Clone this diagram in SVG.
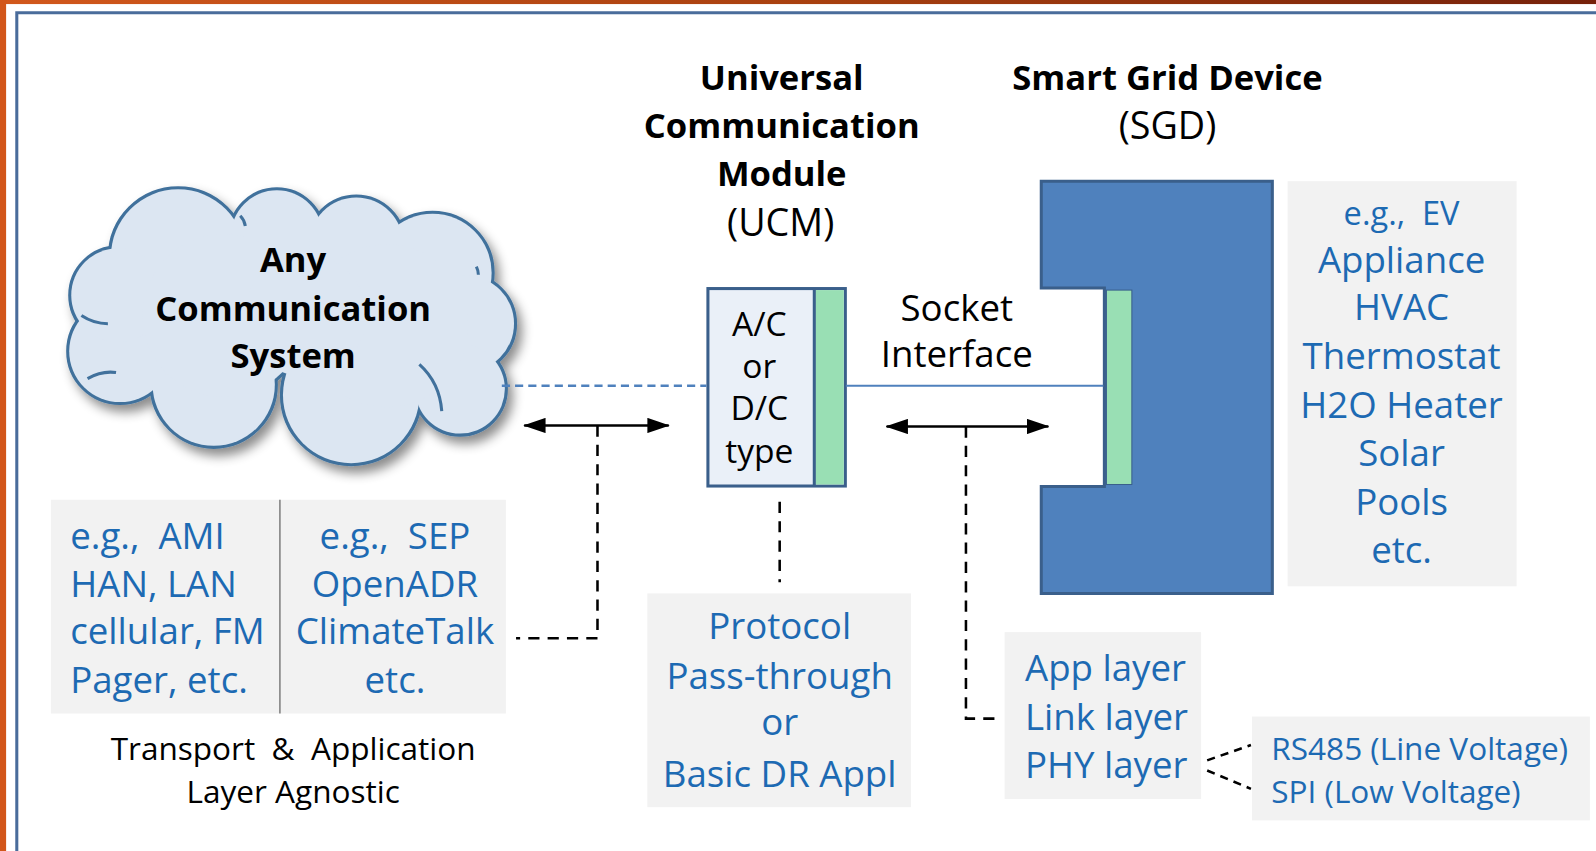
<svg xmlns="http://www.w3.org/2000/svg" width="1596" height="851" viewBox="0 0 1596 851">
<defs>
<linearGradient id="topband" x1="0" y1="0" x2="1" y2="0">
<stop offset="0" stop-color="#d2581c"/>
<stop offset="0.5" stop-color="#a8400f"/>
<stop offset="1" stop-color="#74200a"/>
</linearGradient>
<filter id="shadow" x="-20%" y="-20%" width="140%" height="140%">
<feDropShadow dx="5" dy="7" stdDeviation="5" flood-color="#000" flood-opacity="0.45"/>
</filter>
<marker id="ah" viewBox="0 0 22 15" markerWidth="22" markerHeight="15" refX="21" refY="7.5" orient="auto-start-reverse" markerUnits="userSpaceOnUse">
<path d="M0,0 L22,7.5 L0,15 Z" fill="#000"/>
</marker>
<g id="cloudCircles">
<circle cx="175" cy="252" r="66"/>
<circle cx="272" cy="232" r="45"/>
<circle cx="350" cy="240" r="46"/>
<circle cx="425" cy="268" r="58"/>
<circle cx="458" cy="318" r="47"/>
<circle cx="452" cy="382" r="44"/>
<circle cx="345" cy="388" r="67"/>
<circle cx="210" cy="378" r="60"/>
<circle cx="118" cy="345" r="50"/>
<circle cx="116" cy="290" r="46"/>
<circle cx="220" cy="310" r="80"/>
<circle cx="380" cy="320" r="80"/>
<circle cx="300" cy="310" r="60"/>
</g>
</defs>
<style>
.bold{font-family:"Open Sans","Liberation Sans",sans-serif;font-weight:bold;font-size:34px;fill:#000;text-anchor:middle}
.reg{font-family:"Open Sans","Liberation Sans",sans-serif;font-size:31px;fill:#000;text-anchor:middle}
.blue{font-family:"Open Sans","Liberation Sans",sans-serif;font-size:36px;fill:#1d6ab3}
.mid{text-anchor:middle}
.gray{fill:#f2f2f2}
.dash{fill:none;stroke:#000;stroke-width:2.5;stroke-dasharray:11 8}
.arrow{fill:none;stroke:#000;stroke-width:2.5;marker-start:url(#ah);marker-end:url(#ah)}
.edge{stroke:#3a5f8b;stroke-width:3}
</style>
<rect width="1596" height="851" fill="#fff"/>
<g transform="scale(1.01786)">
<g id="frame">
<rect x="0" y="0" width="1596" height="4" fill="url(#topband)"/>
<rect x="0" y="0" width="6" height="851" fill="#d2561a"/>
<path d="M16.5,851 V12.5 H1596" fill="none" stroke="#4a6c9b" stroke-width="3"/>
</g>
<g id="cloud">
<use href="#cloudCircles" fill="#dce6f2" stroke="#41719c" stroke-width="6" filter="url(#shadow)"/>
<use href="#cloudCircles" fill="#dce6f2" stroke="none"/>
<g fill="none" stroke="#41719c" stroke-width="3">
<path d="M412,358 Q432,376 434,404"/>
<path d="M80,310 Q92,318 106,318"/>
<path d="M86,372 Q100,364 114,366"/>
<path d="M236,212 Q240,216 241,222"/>
<path d="M468,262 Q470,266 470,270"/>
</g>
<text class="bold" x="288" y="267">Any</text>
<text class="bold" x="288" y="315">Communication</text>
<text class="bold" x="288" y="362">System</text>
</g>
<g id="ucm-title">
<text class="bold" x="768" y="88">Universal</text>
<text class="bold" x="768" y="136">Communication</text>
<text class="bold" x="768" y="183">Module</text>
<text class="reg" x="767" y="232" style="font-size:37px">(UCM)</text>
</g>
<g id="sgd-title">
<text class="bold" x="1147" y="88">Smart Grid Device</text>
<text class="reg" x="1147" y="137" style="font-size:37px">(SGD)</text>
</g>
<g id="ucm">
<rect x="695.5" y="283.5" width="135" height="194" fill="#eaf0f8" class="edge"/>
<rect x="801" y="285" width="28" height="191" fill="#99dfb4"/>
<line x1="800" y1="283" x2="800" y2="478" class="edge"/>
<g class="reg" style="font-size:33px">
<text x="746" y="330">A/C</text>
<text x="746" y="371">or</text>
<text x="746" y="413">D/C</text>
<text x="746" y="455">type</text>
</g>
</g>
<g id="sgd">
<path d="M1023,178 H1250 V583 H1023 V478 H1085 V283 H1023 Z" fill="#4f81bd" class="edge"/>
<rect x="1087" y="285" width="25" height="191" fill="#99dfb4" stroke="#3a5f8b" stroke-width="1"/>
</g>
<g id="socket-label">
<text class="reg" x="940" y="315" style="font-size:36px">Socket</text>
<text class="reg" x="940" y="361" style="font-size:36px">Interface</text>
</g>
<g id="sgd-examples">
<rect x="1265" y="178" width="225" height="398" class="gray"/>
<g class="blue mid">
<text x="1377" y="221" style="font-size:32px" xml:space="preserve">e.g.,  EV</text>
<text x="1377" y="268">Appliance</text>
<text x="1377" y="314">HVAC</text>
<text x="1377" y="363">Thermostat</text>
<text x="1377" y="411">H2O Heater</text>
<text x="1377" y="458">Solar</text>
<text x="1377" y="506">Pools</text>
<text x="1377" y="553">etc.</text>
</g>
</g>
<g id="comm-examples">
<rect x="50" y="491" width="447" height="210" class="gray"/>
<line x1="275" y1="491" x2="275" y2="701" stroke="#7f7f7f" stroke-width="1.5"/>
<g class="blue">
<text x="69" y="539" xml:space="preserve">e.g.,  AMI</text>
<text x="69" y="587">HAN, LAN</text>
<text x="69" y="633">cellular, FM</text>
<text x="69" y="681">Pager, etc.</text>
</g>
<g class="blue mid">
<text x="388" y="539" xml:space="preserve">e.g.,  SEP</text>
<text x="388" y="587">OpenADR</text>
<text x="388" y="633">ClimateTalk</text>
<text x="388" y="681">etc.</text>
</g>
<g class="reg">
<text x="288" y="747" xml:space="preserve">Transport  &amp;  Application</text>
<text x="288" y="789">Layer Agnostic</text>
</g>
</g>
<g id="protocol">
<rect x="636" y="583" width="259" height="210" class="gray"/>
<g class="blue mid">
<text x="766" y="628">Protocol</text>
<text x="766" y="677">Pass-through</text>
<text x="766" y="722">or</text>
<text x="766" y="773">Basic DR Appl</text>
</g>
</g>
<g id="layers">
<rect x="987" y="621" width="193" height="164" class="gray"/>
<g class="blue">
<text x="1007" y="669">App layer</text>
<text x="1007" y="717">Link layer</text>
<text x="1007" y="764">PHY layer</text>
</g>
</g>
<g id="phy-types">
<rect x="1230" y="704" width="332" height="102" class="gray"/>
<g class="blue" style="font-size:31px">
<text x="1249" y="747">RS485 (Line Voltage)</text>
<text x="1249" y="789">SPI (Low Voltage)</text>
</g>
</g>
<g id="connectors">
<line x1="493" y1="379" x2="694" y2="379" stroke="#4f81bd" stroke-width="2.5" stroke-dasharray="8 5"/>
<line x1="831" y1="379" x2="1084" y2="379" stroke="#4f81bd" stroke-width="2"/>
<line x1="515" y1="418" x2="657" y2="418" class="arrow"/>
<line x1="871" y1="419" x2="1030" y2="419" class="arrow"/>
<path d="M587,418 V627 H507" class="dash"/>
<path d="M949,419 V706 H985" class="dash"/>
<line x1="766" y1="493" x2="766" y2="572" class="dash"/>
<line x1="1186" y1="747" x2="1229" y2="732" class="dash" style="stroke-dasharray:8 6"/>
<line x1="1186" y1="757" x2="1229" y2="775" class="dash" style="stroke-dasharray:8 6"/>
</g>
</g>
</svg>
